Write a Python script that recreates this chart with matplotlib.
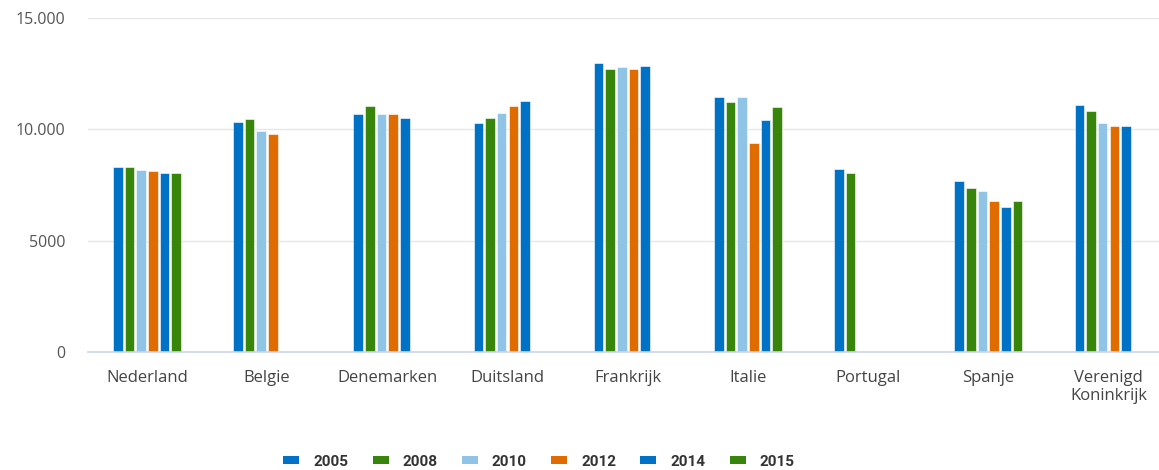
import numpy as np
import matplotlib
matplotlib.use('Agg')
import matplotlib.pyplot as plt
from matplotlib.patches import Patch

nan = np.nan

countries = ['Nederland', 'Belgie', 'Denemarken', 'Duitsland', 'Frankrijk',
             'Italie', 'Portugal', 'Spanje', 'Verenigd\nKoninkrijk']
years = ['2005', '2008', '2010', '2012', '2014', '2015']

v2005 = [8310, 10350, 10680, 10300, 12970, 11470, 8210, 7680, 11100]
v2008 = [8310, 10470, 11040, 10530, 12700, 11220, 8055, 7350, 10840]
v2010 = [8180, 9920, 10680, 10750, 12790, 11470, nan, 7230, 10270]
v2012 = [8130, 9810, 10680, 11040, 12700, 9400, nan, 6780, 10170]
v2014 = [8040, nan, 10530, 11280, 12860, 10420, nan, 6530, 10170]
v2015 = [8040, nan, nan, nan, nan, 10990, nan, 6780, nan]

yticks = [0, 5000, 10000, 15000]
ytick_labels = ['0', '5000', '10.000', '15.000']

colors = ['#0072c6', '#38850c', '#8fc4e6', '#e06c00', '#0072c6', '#38850c']

series = [v2005, v2008, v2010, v2012, v2014, v2015]

fig = plt.figure(figsize=(11.59, 4.70), dpi=100)
ax = fig.add_axes([88 / 1159, 118 / 470, 1 - 88 / 1159, (352 - 18) / 470])

x = np.arange(len(countries))
pitch = 0.097
width = 0.08
for i, (vals, c) in enumerate(zip(series, colors)):
    offs = (i - 2.5) * pitch
    ax.bar(x + offs, vals, width=width, color=c, edgecolor='white',
           linewidth=0.4, zorder=3)

ax.set_xlim(-0.49, 8.42)
ax.set_ylim(0, 15000)
ax.set_yticks(yticks)
ax.set_yticklabels(ytick_labels)
ax.set_xticks(x)
ax.set_xticklabels(countries)

ax.grid(axis='y', color='#e6e6e6', linewidth=1, zorder=0)
for s in ['top', 'right', 'left']:
    ax.spines[s].set_visible(False)
ax.spines['bottom'].set_color('#ccd6eb')
ax.spines['bottom'].set_linewidth(1.2)
ax.spines['bottom'].set_zorder(4)

ax.tick_params(axis='y', length=0, pad=16, labelsize=11.5, labelcolor='#555555')
ax.tick_params(axis='x', length=0, pad=13, labelsize=12, labelcolor='#444444')
for lab in ax.get_xticklabels() + ax.get_yticklabels():
    lab.set_family(['Open Sans', 'DejaVu Sans'])

handles = [Patch(facecolor=c, edgecolor='none') for c in colors]
leg = fig.legend(handles, years, loc='center', bbox_to_anchor=(0.465, 0.018),
                 ncol=6, frameon=False, handlelength=1.05, handleheight=0.46,
                 handletextpad=0.9, columnspacing=1.6,
                 prop={'family': 'Roboto', 'weight': 'bold', 'size': 11})
for t in leg.get_texts():
    t.set_color('#333333')

plt.savefig('out.png', dpi=100)
